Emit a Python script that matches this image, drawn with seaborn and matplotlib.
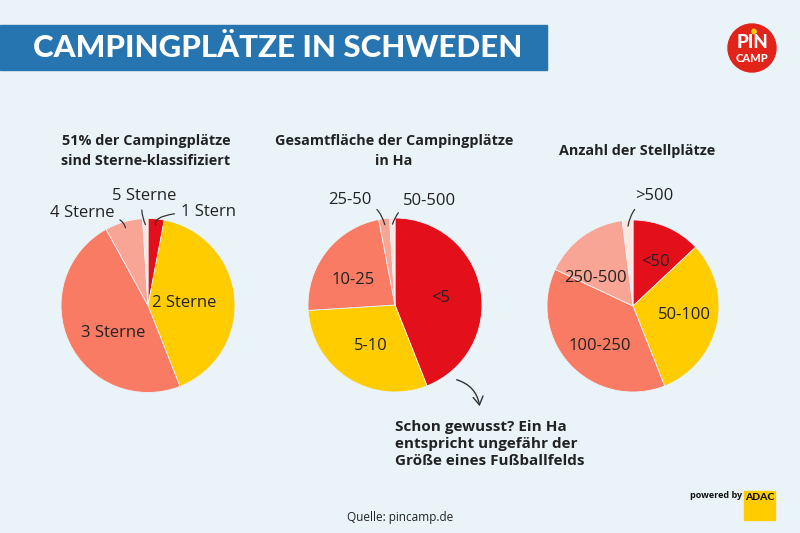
import numpy as np
import matplotlib
matplotlib.use("Agg")
import matplotlib.pyplot as plt
from matplotlib.patches import Circle, Rectangle
import seaborn as sns

# ---------------- data ----------------
stars_labels = ["1 Stern", "2 Sterne", "3 Sterne", "4 Sterne", "5 Sterne"]
stars_values = [3, 41, 48, 7, 1]

area_labels = ["<5", "5-10", "10-25", "25-50", "50-500"]
area_values = [44, 30, 23, 2, 1]

pitch_labels = ["<50", "50-100", "100-250", "250-500", ">500"]
pitch_values = [13, 31, 38, 16, 2]

titles = ["51% der Campingplätze\nsind Sterne-klassifiziert",
          "Gesamtfläche der Campingplätze\nin Ha",
          "Anzahl der Stellplätze"]

# ---------------- style ----------------
sns.set_theme(style="white")
BODY = ["Open Sans", "DejaVu Sans"]
plt.rcParams["font.family"] = BODY

BG = "#EAF3F8"
palette = sns.color_palette(["#E30F1B", "#FFCC00", "#F97B63", "#F8A596", "#FCE6E1"])
TXT = "#222222"

W, H = 800, 533
fig = plt.figure(figsize=(8, 5.33), dpi=100, facecolor=BG)

# overlay axis in pixel coordinates
ov = fig.add_axes([0, 0, 1, 1], zorder=5)
ov.set_xlim(0, W)
ov.set_ylim(H, 0)
ov.axis("off")
ov.patch.set_alpha(0)

# title banner
ov.add_patch(Rectangle((0, 25), 547, 45, color="#2775B0", zorder=1))
ov.text(33, 48, "CAMPINGPLÄTZE IN SCHWEDEN", color="white", fontsize=22.5,
        fontweight="black", family=["Lato", "DejaVu Sans"], va="center", ha="left", zorder=2)

# logo
ov.add_patch(Circle((752, 48), 24, color="#E2231A", zorder=2))
ov.add_patch(Circle((754, 31.5), 2.2, color="#FFCC00", zorder=3))
ov.text(752, 43, "PIN", color="white", fontsize=13.5, fontweight="black",
        family=["Lato", "DejaVu Sans"], ha="center", va="center", zorder=3)
ov.text(752, 58, "CAMP", color="white", fontsize=8, fontweight="black",
        family=["Lato", "DejaVu Sans"], ha="center", va="center", zorder=3)

# pies: outer label -> (text position, connection style)
pies = [
    dict(labels=stars_labels, values=stars_values, c=(148, 305.5), r=87, title_x=146,
         inner={"2 Sterne": (0.414, 0.029), "3 Sterne": (-0.402, -0.316)},
         outer={"1 Stern": ((0.69, 1.075), "angle3,angleA=180,angleB=-75"),
                "4 Sterne": ((-0.759, 1.063), "angle3,angleA=0,angleB=-80"),
                "5 Sterne": ((-0.046, 1.259), "arc3,rad=0.2")}),
    dict(labels=area_labels, values=area_values, c=(395, 305), r=87, title_x=394,
         inner={"<5": (0.529, 0.080), "5-10": (-0.276, -0.471), "10-25": (-0.483, 0.287)},
         outer={"25-50": ((-0.517, 1.207), "arc3,rad=-0.4"),
                "50-500": ((0.402, 1.195), "arc3,rad=0.4")}),
    dict(labels=pitch_labels, values=pitch_values, c=(633, 306), r=86, title_x=637,
         inner={"<50": (0.256, 0.512), "50-100": (0.593, -0.105),
                "100-250": (-0.384, -0.465), "250-500": (-0.442, 0.326)},
         outer={">500": ((0.244, 1.279), "arc3,rad=0.3")}),
]

for p, title in zip(pies, titles):
    cx, cy = p["c"]
    r = p["r"]
    half = 1.5 * r
    ax = fig.add_axes([(cx - half) / W, 1 - (cy + half) / H, 2 * half / W, 2 * half / H])
    ax.axis("off")
    ax.patch.set_alpha(0)
    wedges, _ = ax.pie(p["values"], colors=palette, startangle=90, counterclock=False,
                       radius=1.0, wedgeprops=dict(linewidth=0.6, edgecolor=BG))
    ax.set_xlim(-1.5, 1.5)
    ax.set_ylim(-1.5, 1.5)
    ax.set_aspect("equal")
    vals = np.array(p["values"], dtype=float)
    ends = np.cumsum(vals) / vals.sum() * 360
    mids = ends - vals / vals.sum() * 180
    for lab, (x, y) in p["inner"].items():
        ax.text(x, y, lab, ha="center", va="center", fontsize=12, color=TXT)
    for lab, ((x, y), cs) in p["outer"].items():
        i = p["labels"].index(lab)
        a = np.deg2rad(mids[i])
        tip = (0.93 * np.sin(a), 0.93 * np.cos(a))
        ax.annotate(lab, xy=tip, xytext=(x, y), ha="center", va="center",
                    fontsize=12, color=TXT,
                    arrowprops=dict(arrowstyle="-", color="#333333", lw=0.9,
                                    connectionstyle=cs, shrinkA=2, shrinkB=0))
    ov.text(p["title_x"], 151, title, ha="center", va="center", fontsize=10.4,
            fontweight="bold", color=TXT, linespacing=1.5)

# curved arrow and note
ov.annotate("", xy=(480, 409), xytext=(454, 379),
            arrowprops=dict(arrowstyle="->,head_length=0.5,head_width=0.3", color="#333333",
                            lw=1.0, connectionstyle="arc3,rad=-0.35"))
ov.text(395, 444, "Schon gewusst? Ein Ha\nentspricht ungefähr der\nGröße eines Fußballfelds",
        ha="left", va="center", fontsize=11, fontweight="bold", color=TXT, linespacing=1.3)

# source
ov.text(400, 517, "Quelle: pincamp.de", ha="center", va="center", fontsize=8.5, color=TXT)

# powered by ADAC
ov.text(742, 496, "powered by", ha="right", va="center", fontsize=6.5, fontweight="bold",
        color="#111111")
ov.add_patch(Rectangle((744, 491), 31, 29, color="#FFCC00", zorder=2))
ov.text(759.5, 498, "ADAC", ha="center", va="center", fontsize=7.5, fontweight="black",
        family=["Lato", "DejaVu Sans"], color="#111111", zorder=3)

fig.savefig("out.png", dpi=100, facecolor=BG)
